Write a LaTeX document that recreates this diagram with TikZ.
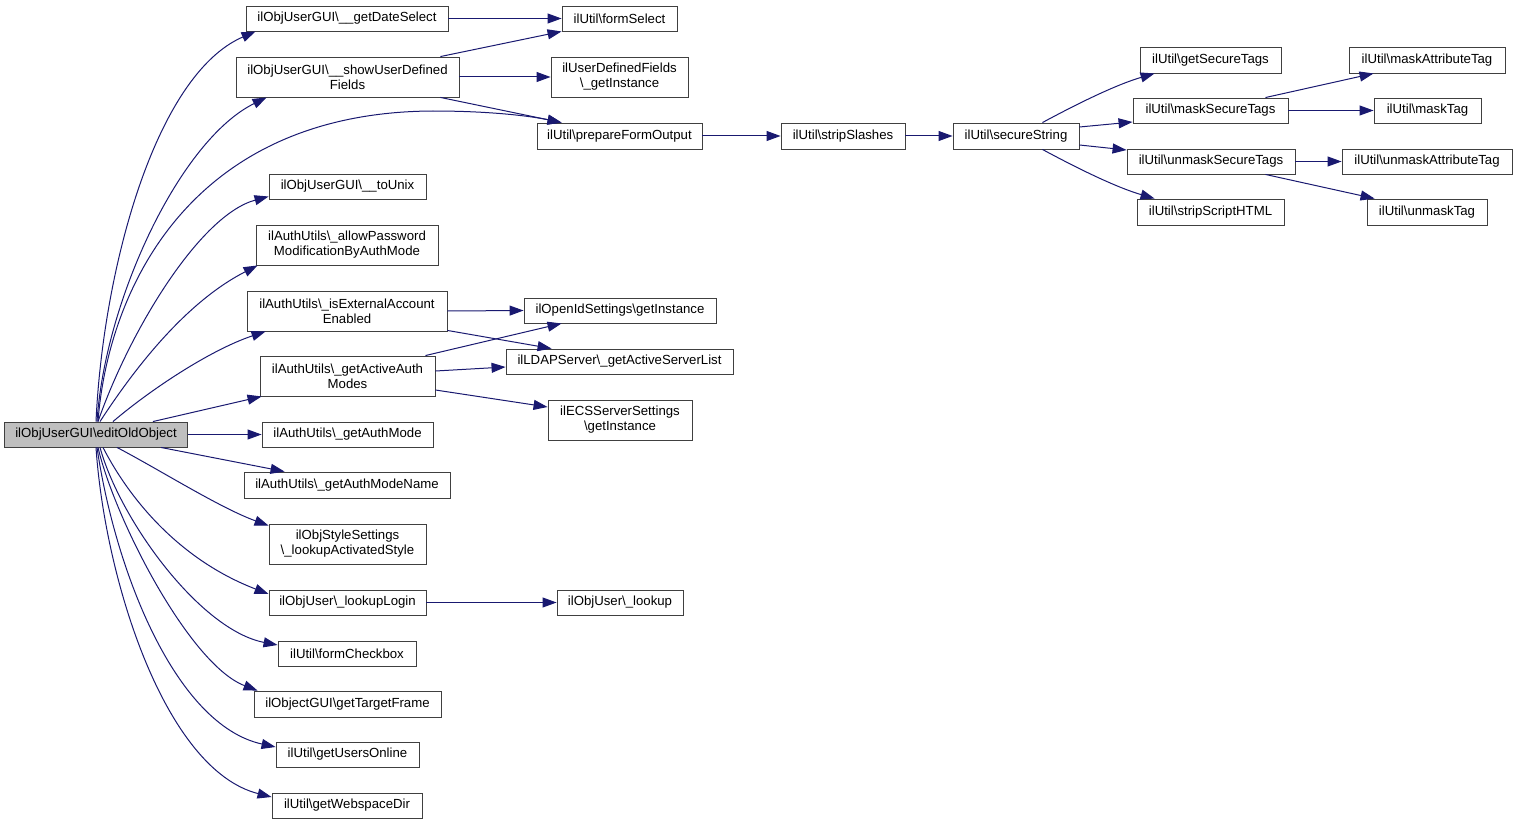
\documentclass[tikz,border=0pt]{standalone}
\usepackage{fontspec}
\setmainfont{Liberation Sans}
\usetikzlibrary{arrows.meta}
\definecolor{edgecol}{RGB}{25,25,112}
\definecolor{boxcol}{RGB}{64,64,64}
\definecolor{maingray}{RGB}{191,191,191}
\begin{document}
\begin{tikzpicture}[x=1pt,y=-1pt,
  box/.style={draw=boxcol,line width=0.9pt,fill=white,inner sep=0pt,align=center,
    font=\fontsize{13.2}{15}\selectfont},
  edge/.style={draw=edgecol,line width=1pt,-{Triangle[length=14pt,width=10pt]}}]
\useasboundingbox (0,0) rectangle (1517,824);
% nodes
\node[box,fill=maingray,minimum width=183pt,minimum height=25pt] (main) at (96,434.5) {ilObjUserGUI\textbackslash editOldObject};
\node[box,minimum width=202pt,minimum height=25pt] (gds) at (347,18.5) {ilObjUserGUI\textbackslash\_\_getDateSelect};
\node[box,minimum width=223pt,minimum height=40pt] (sudf) at (347.5,77) {ilObjUserGUI\textbackslash\_\_showUserDefined\\Fields};
\node[box,minimum width=157pt,minimum height=25pt] (tounix) at (347.5,186.5) {ilObjUserGUI\textbackslash\_\_toUnix};
\node[box,minimum width=182pt,minimum height=40pt] (apwd) at (347,245) {ilAuthUtils\textbackslash\_allowPassword\\ModificationByAuthMode};
\node[box,minimum width=200pt,minimum height=40pt] (isext) at (347,311) {ilAuthUtils\textbackslash\_isExternalAccount\\Enabled};
\node[box,minimum width=175pt,minimum height=40pt] (gaam) at (347.5,376) {ilAuthUtils\textbackslash\_getActiveAuth\\Modes};
\node[box,minimum width=171pt,minimum height=25pt] (gam) at (347.5,434.5) {ilAuthUtils\textbackslash\_getAuthMode};
\node[box,minimum width=206pt,minimum height=26pt] (gamn) at (347,485) {ilAuthUtils\textbackslash\_getAuthModeName};
\node[box,minimum width=157pt,minimum height=40pt] (lkstyle) at (347.5,544) {ilObjStyleSettings\\\textbackslash\_lookupActivatedStyle};
\node[box,minimum width=157pt,minimum height=25pt] (lklogin) at (347.5,602.5) {ilObjUser\textbackslash\_lookupLogin};
\node[box,minimum width=138pt,minimum height=25pt] (formcb) at (347,653.5) {ilUtil\textbackslash formCheckbox};
\node[box,minimum width=187pt,minimum height=26pt] (gtf) at (347.5,704) {ilObjectGUI\textbackslash getTargetFrame};
\node[box,minimum width=143pt,minimum height=25pt] (guo) at (347.5,754.5) {ilUtil\textbackslash getUsersOnline};
\node[box,minimum width=150pt,minimum height=25pt] (gwd) at (347,805.5) {ilUtil\textbackslash getWebspaceDir};
\node[box,minimum width=115pt,minimum height=25pt] (fsel) at (619.5,18.5) {ilUtil\textbackslash formSelect};
\node[box,minimum width=137pt,minimum height=40pt] (udfgi) at (619.5,77) {ilUserDefinedFields\\\textbackslash\_getInstance};
\node[box,minimum width=165pt,minimum height=26pt] (pfo) at (619.5,136) {ilUtil\textbackslash prepareFormOutput};
\node[box,minimum width=124pt,minimum height=26pt] (strip) at (843,136) {ilUtil\textbackslash stripSlashes};
\node[box,minimum width=126pt,minimum height=26pt] (secure) at (1016,136) {ilUtil\textbackslash secureString};
\node[box,minimum width=192pt,minimum height=25pt] (openid) at (620,310.5) {ilOpenIdSettings\textbackslash getInstance};
\node[box,minimum width=227pt,minimum height=25pt] (ldap) at (619.5,361.5) {ilLDAPServer\textbackslash\_getActiveServerList};
\node[box,minimum width=144pt,minimum height=40pt] (ecs) at (620,420) {ilECSServerSettings\\\textbackslash getInstance};
\node[box,minimum width=126pt,minimum height=25pt] (lookup) at (620,602.5) {ilObjUser\textbackslash\_lookup};
\node[box,minimum width=141pt,minimum height=26pt] (gst) at (1210.5,60) {ilUtil\textbackslash getSecureTags};
\node[box,minimum width=155pt,minimum height=25pt] (mst) at (1210.5,110.5) {ilUtil\textbackslash maskSecureTags};
\node[box,minimum width=168pt,minimum height=25pt] (ust) at (1211,161.5) {ilUtil\textbackslash unmaskSecureTags};
\node[box,minimum width=147pt,minimum height=26pt] (ssh) at (1210.5,212) {ilUtil\textbackslash stripScriptHTML};
\node[box,minimum width=156pt,minimum height=26pt] (mat) at (1427,60) {ilUtil\textbackslash maskAttributeTag};
\node[box,minimum width=107pt,minimum height=25pt] (mt) at (1427.5,110.5) {ilUtil\textbackslash maskTag};
\node[box,minimum width=170pt,minimum height=25pt] (uat) at (1427,161.5) {ilUtil\textbackslash unmaskAttributeTag};
\node[box,minimum width=120pt,minimum height=26pt] (ut) at (1427,212) {ilUtil\textbackslash unmaskTag};
% edges from main, upward
\draw[edge] (main.north) .. controls (103,270) and (155,75) .. ([xshift=10pt]gds.south west);
\draw[edge] ([xshift=1pt]main.north) .. controls (105,300) and (180,140) .. ([xshift=31pt]sudf.south west);
\draw[edge] ([xshift=2pt]main.north) .. controls (108,290) and (190,112) .. (433,111) .. controls (490,111) and (530,116) .. ([xshift=25pt]pfo.north west);
\draw[edge] ([xshift=2pt]main.north) .. controls (130,330) and (200,215) .. ([yshift=-10pt]tounix.west);
\draw[edge] ([xshift=4pt]main.north) .. controls (140,360) and (190,300) .. ([xshift=2pt]apwd.south west);
\draw[edge] ([xshift=17pt]main.north) .. controls (150,390) and (210,350) .. ([xshift=19pt]isext.south west);
\draw[edge] ([xshift=-35pt]main.north east) -- ([xshift=2pt]gaam.south west);
\draw[edge] (main.east) -- (gam.west);
% edges from main, downward
\draw[edge] ([xshift=-27pt]main.south east) -- ([xshift=41pt]gamn.north west);
\draw[edge] ([xshift=21pt]main.south) .. controls (160,470) and (220,508) .. ([yshift=-2pt]lkstyle.north west);
\draw[edge] ([xshift=7pt]main.south) .. controls (130,500) and (180,560) .. ([yshift=8.5pt]lklogin.west);
\draw[edge] ([xshift=4pt]main.south) .. controls (120,520) and (200,630) .. ([yshift=8.5pt]formcb.west);
\draw[edge] ([xshift=2pt]main.south) .. controls (115,520) and (190,665) .. ([xshift=4pt]gtf.north west);
\draw[edge] ([xshift=1pt]main.south) .. controls (115,570) and (175,725) .. ([yshift=7.5pt]guo.west);
\draw[edge] (main.south) .. controls (105,580) and (165,770) .. ([yshift=8.5pt]gwd.west);
% second level
\draw[edge] (gds.east) -- (fsel.west);
\draw[edge] ([xshift=-19pt]sudf.north east) -- (fsel.south west);
\draw[edge] (sudf.east) -- (udfgi.west);
\draw[edge] ([xshift=-19pt]sudf.south east) -- ([xshift=25pt]pfo.north west);
\draw[edge] (isext.east) -- (openid.west);
\draw[edge] ([yshift=1pt]isext.south east) -- ([xshift=46pt]ldap.north west);
\draw[edge] ([xshift=-10pt]gaam.north east) -- ([xshift=38pt]openid.south west);
\draw[edge] ([yshift=5pt]gaam.east) -- ([yshift=-5.5pt]ldap.west);
\draw[edge] ([yshift=-14pt]gaam.east) -- ([yshift=13pt]ecs.west);
\draw[edge] (lklogin.east) -- (lookup.west);
% chain
\draw[edge] (pfo.east) -- (strip.west);
\draw[edge] (strip.east) -- (secure.west);
\draw[edge] ([xshift=-37pt]secure.north east) .. controls (1075,105) and (1115,85) .. ([xshift=15pt]gst.south west);
\draw[edge] ([yshift=9pt]secure.east) -- ([yshift=-11.5pt]mst.west);
\draw[edge] ([yshift=-9pt]secure.east) -- ([yshift=11.5pt]ust.west);
\draw[edge] ([xshift=-37pt]secure.south east) .. controls (1075,167) and (1115,187) .. ([xshift=18pt]ssh.north west);
\draw[edge] ([xshift=-23pt]mst.north east) -- ([xshift=25pt]mat.south west);
\draw[edge] (mst.east) -- (mt.west);
\draw[edge] (ust.east) -- (uat.west);
\draw[edge] ([xshift=-30pt]ust.south east) -- ([xshift=8pt]ut.north west);
\end{tikzpicture}
\end{document}
